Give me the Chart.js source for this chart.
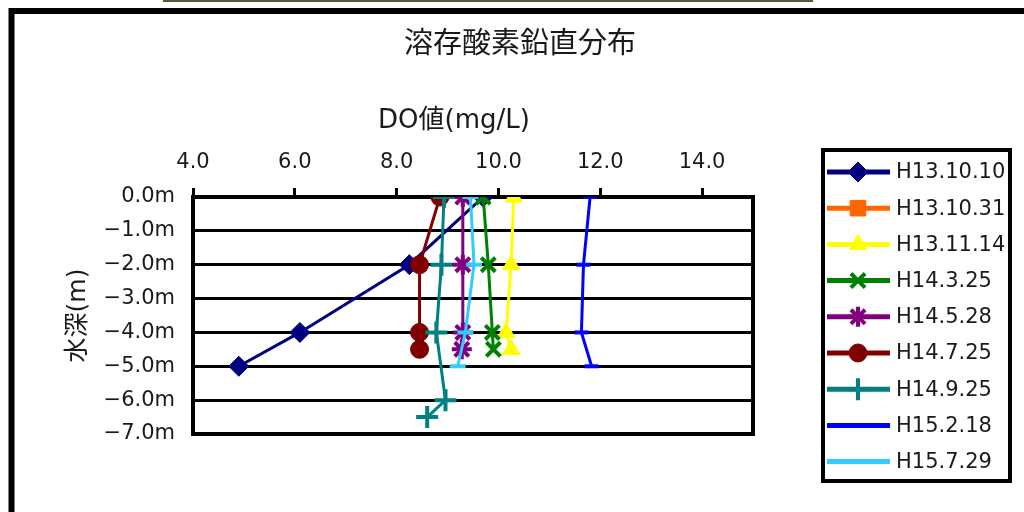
<!DOCTYPE html>
<html>
<head>
<meta charset="utf-8">
<script src="https://cdn.jsdelivr.net/npm/chart.js@4"></script>
<style>
  html, body { margin: 0; padding: 0; background: #fff; overflow: hidden; }
  canvas { display: block; }
</style>
</head>
<body>
<canvas id="doChart" width="1024" height="512"></canvas>
<script>
// ── DATA ──
const seriesNames = ['H13.10.10', 'H13.10.31', 'H13.11.14', 'H14.3.25', 'H14.5.28', 'H14.7.25', 'H14.9.25', 'H15.2.18', 'H15.7.29'];

// depth (m) per series
const depth_131010 = [0, -2, -4, -5];
const depth_131031 = [];
const depth_131114 = [0, -2, -4, -4.5];
const depth_1403 = [0, -2, -4, -4.5];
const depth_1405 = [0, -2, -4, -4.5];
const depth_1407 = [0, -2, -4, -4.5];
const depth_1409 = [0, -2, -4, -6, -6.5];
const depth_1502 = [0, -2, -4, -5];
const depth_1507 = [0, -2, -4, -5];

// DO (mg/L) per series
const do_131010 = [9.7, 8.25, 6.1, 4.9];
const do_131031 = [];
const do_131114 = [10.3, 10.25, 10.15, 10.25];
const do_1403 = [9.7, 9.8, 9.88, 9.9];
const do_1405 = [9.3, 9.3, 9.3, 9.28];
const do_1407 = [8.85, 8.45, 8.45, 8.45];
const do_1409 = [8.93, 8.88, 8.78, 8.96, 8.6];
const do_1502 = [11.8, 11.67, 11.63, 11.83];
const do_1507 = [9.45, 9.52, 9.35, 9.2];

const xTickMin = 4, xTickMax = 15, xStep = 2;
const yTickMin = -7, yTickMax = 0;

const TITLE = '溶存酸素鉛直分布';
const X_TITLE = 'DO値(mg/L)';
const Y_TITLE = '水深(m)';

// 色とマーカー (Excel 既定色)
const COLORS = ['#000080', '#FF6600', '#FFFF00', '#008000', '#800080', '#800000', '#008080', '#0000FF', '#33CCFF'];
const MARKERS = ['rectRot', 'rect', 'triangle', 'crossRot', 'star', 'circle', 'cross', 'line', 'line'];
const RADII = [10, 11, 10, 10, 10, 9, 11, 7, 8];
const LEGEND_MARKER = [true, true, true, true, true, true, true, false, false];

const allDepths = [depth_131010, depth_131031, depth_131114, depth_1403, depth_1405, depth_1407, depth_1409, depth_1502, depth_1507];
const allValues = [do_131010, do_131031, do_131114, do_1403, do_1405, do_1407, do_1409, do_1502, do_1507];

const FONT = "'DejaVu Sans', 'Noto Sans CJK JP', sans-serif";
const TEXT_COLOR = '#1a1a1a';

const datasets = seriesNames.map((name, i) => {
    const filled = ['rectRot', 'rect', 'triangle', 'circle'].includes(MARKERS[i]);
    return {
        label: name,
        data: allValues[i].map((v, k) => ({ x: v, y: allDepths[i][k] })),
        showLine: true,
        borderColor: COLORS[i],
        backgroundColor: COLORS[i],
        borderWidth: 3,
        pointStyle: MARKERS[i],
        pointRadius: RADII[i],
        pointBorderWidth: filled ? 1 : 4,
        pointBackgroundColor: COLORS[i],
        pointBorderColor: COLORS[i],
        order: seriesNames.length - i
    };
});

// ── PLUGIN: 枠・タイトル・凡例 ──
const decorPlugin = {
    id: 'decor',
    beforeDraw(chart) {
        const ctx = chart.ctx;
        ctx.save();
        ctx.fillStyle = '#fff';
        ctx.fillRect(0, 0, chart.width, chart.height);
        // 上端の切れ端
        ctx.fillStyle = '#5a5a3a';
        ctx.fillRect(163, 0, 650, 2);
        // 外枠
        ctx.strokeStyle = '#000';
        ctx.lineWidth = 6;
        ctx.strokeRect(11.5, 11, chart.width + 20, chart.height + 20);
        ctx.restore();
    },
    beforeDatasetsDraw(chart) {
        const { ctx, chartArea: a } = chart;
        ctx.save();
        ctx.strokeStyle = '#000';
        ctx.lineWidth = 4;
        ctx.strokeRect(a.left, a.top, a.right - a.left, a.bottom - a.top);
        ctx.restore();
    },
    afterDraw(chart) {
        const ctx = chart.ctx;
        ctx.save();
        ctx.fillStyle = TEXT_COLOR;
        ctx.textAlign = 'center';
        ctx.textBaseline = 'middle';
        ctx.font = "29px 'Noto Sans CJK JP', sans-serif";
        ctx.fillText(TITLE, 520, 42);
        ctx.font = "26px " + FONT;
        ctx.fillText(X_TITLE, 454, 121);

        // 凡例
        const box = { left: 823, top: 150, right: 1010, bottom: 481 };
        ctx.strokeStyle = '#000';
        ctx.lineWidth = 4;
        ctx.strokeRect(box.left, box.top, box.right - box.left, box.bottom - box.top);
        ctx.textAlign = 'left';
        ctx.font = "21px " + FONT;
        chart.data.datasets.forEach((ds, i) => {
            const y = 172 + i * 36.2;
            ctx.strokeStyle = ds.borderColor;
            ctx.lineWidth = 5;
            ctx.beginPath();
            ctx.moveTo(827, y);
            ctx.lineTo(890, y);
            ctx.stroke();
            if (LEGEND_MARKER[i]) {
                ctx.fillStyle = ds.borderColor;
                ctx.lineWidth = ds.pointBorderWidth;
                Chart.helpers.drawPoint(ctx, {
                    pointStyle: ds.pointStyle,
                    radius: ds.pointRadius,
                    borderWidth: ds.pointBorderWidth,
                    rotation: 0
                }, 858, y);
            }
            ctx.fillStyle = TEXT_COLOR;
            ctx.fillText(ds.label, 896, y + 1);
        });
        ctx.restore();
    }
};

const chart = new Chart(document.getElementById('doChart'), {
    type: 'scatter',
    data: { datasets },
    options: {
        responsive: false,
        animation: false,
        layout: { padding: { left: 60, right: 271, top: 0, bottom: 78 } },
        plugins: {
            legend: { display: false },
            tooltip: { enabled: false }
        },
        scales: {
            x: {
                type: 'linear',
                position: 'top',
                min: xTickMin,
                max: xTickMax,
                afterBuildTicks: s => { s.ticks = s.ticks.filter(t => t.value <= 14); },
                afterFit: s => { s.height = 197; },
                ticks: {
                    stepSize: xStep,
                    padding: 13,
                    color: TEXT_COLOR,
                    font: { family: FONT, size: 21 },
                    callback: v => v.toFixed(1)
                },
                grid: { display: true, drawOnChartArea: false, drawTicks: true, tickLength: 9, color: '#000', lineWidth: 3 },
                border: { display: false }
            },
            y: {
                type: 'linear',
                min: yTickMin,
                max: yTickMax,
                afterFit: s => { s.width = 133; },
                ticks: {
                    stepSize: 1,
                    padding: 18,
                    color: TEXT_COLOR,
                    font: { family: FONT, size: 21 },
                    callback: v => (v < 0 ? '\u2212' : '') + Math.abs(v).toFixed(1) + 'm'
                },
                title: {
                    display: true,
                    text: Y_TITLE,
                    color: TEXT_COLOR,
                    font: { family: FONT, size: 25 },
                    padding: { top: 3, bottom: 0 }
                },
                grid: { color: '#000', lineWidth: 3, drawTicks: false },
                border: { display: false }
            }
        }
    },
    plugins: [decorPlugin]
});
</script>
</body>
</html>
